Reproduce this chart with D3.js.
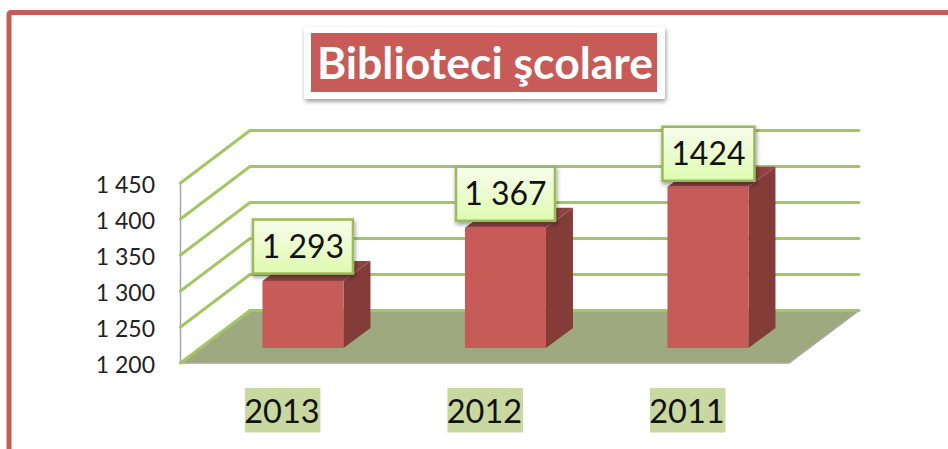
<!DOCTYPE html>
<html>
<head>
<meta charset="utf-8">
<script src="https://cdn.jsdelivr.net/npm/d3@7"></script>
<style>
  html, body { margin: 0; padding: 0; background: #fff; overflow: hidden; }
  text { font-family: Lato, "Open Sans", sans-serif; }
</style>
</head>
<body>
<svg id="chart" width="948" height="449"></svg>
<script>
const years = ["2013", "2012", "2011"];
const values = [1293, 1367, 1424];
const valueLabels = ["1 293", "1 367", "1424"];
const tickValues = [1200, 1250, 1300, 1350, 1400, 1450];
const tickLabels = ["1 200", "1 250", "1 300", "1 350", "1 400", "1 450"];
const titleText = "Biblioteci şcolare";

const red = "#c65b58", redDark = "#843c39", redTop = "#8f4442";
const green = "#a5c565", floorColor = "#9fa97f", axisGrey = "#a6a6a6";

// perspective offsets of the 3D box
const wallDx = 69.5, wallDy = -52.5;
const barDx = 27, barDy = -20;
const barBaseDrop = 15; // bars stand a bit behind the front edge of the floor

const svg = d3.select("#chart");
const defs = svg.append("defs");

const shadow = defs.append("filter").attr("id", "shadow")
  .attr("x", "-10%").attr("y", "-10%").attr("width", "125%").attr("height", "130%");
shadow.append("feDropShadow").attr("dx", 1).attr("dy", 2.5)
  .attr("stdDeviation", 2).attr("flood-color", "#000").attr("flood-opacity", 0.4);

const grad = defs.append("linearGradient").attr("id", "labelFill")
  .attr("x1", 0).attr("y1", 0).attr("x2", 0).attr("y2", 1);
grad.append("stop").attr("offset", "0%").attr("stop-color", "#f7fdec");
grad.append("stop").attr("offset", "100%").attr("stop-color", "#dffab0");

const y = d3.scaleLinear().domain([1200, 1450]).range([363, 183]);
const x0 = 180.5, x1 = 789;
const x = d3.scaleBand().domain(years).range([201.7, 809.2])
  .paddingInner(0.6).paddingOuter(0.3);

// outer frame, runs off the page on the right and at the bottom
svg.append("rect").attr("x", 9).attr("y", 12.5).attr("width", 1100).attr("height", 800)
  .attr("rx", 2).attr("fill", "#fff").attr("stroke", red).attr("stroke-width", 5);

// floor
svg.append("path")
  .attr("d", d3.line()([[x0, y(1200)], [x0 + wallDx, y(1200) + wallDy], [x1 + wallDx + 0.5, y(1200) + wallDy], [x1, y(1200)]]) + "Z")
  .attr("fill", floorColor);
svg.append("path")
  .attr("d", d3.line()([[x0, y(1200)], [x1, y(1200)], [x1 + wallDx + 0.5, y(1200) + wallDy]]))
  .attr("fill", "none").attr("stroke", axisGrey).attr("stroke-width", 1.5);

// vertical axis line
svg.append("line").attr("x1", x0).attr("x2", x0).attr("y1", y(1450)).attr("y2", y(1200))
  .attr("stroke", axisGrey).attr("stroke-width", 1.5);

// gridlines
svg.append("g").selectAll("path").data(tickValues).join("path")
  .attr("d", d => d3.line()([[x0, y(d)], [x0 + wallDx, y(d) + wallDy], [x1 + wallDx + 0.5, y(d) + wallDy]]))
  .attr("fill", "none").attr("stroke", green).attr("stroke-width", 3)
  .attr("stroke-linecap", "round").attr("stroke-linejoin", "round");

// tick labels
const axis = d3.axisLeft(y).tickValues(tickValues)
  .tickFormat((d, i) => tickLabels[i]).tickSize(0).tickPadding(0);
const axisG = svg.append("g").attr("transform", "translate(155,2.5)").call(axis);
axisG.select(".domain").remove();
axisG.selectAll("text").attr("font-size", 23).attr("fill", "#222").attr("dy", "0.32em")
  .style("font-family", "Lato, sans-serif");

// bars
const bars = svg.append("g").selectAll("g").data(years).join("g");
const base = y(1200) - barBaseDrop;
const barTop = (i) => y(values[i]) - barBaseDrop;
bars.append("path") // side
  .attr("d", (d, i) => {
    const r = x(d) + x.bandwidth();
    return d3.line()([[r, base], [r + barDx, base + barDy], [r + barDx, barTop(i) + barDy], [r, barTop(i)]]) + "Z";
  }).attr("fill", redDark);
bars.append("path") // top
  .attr("d", (d, i) => {
    const l = x(d), r = l + x.bandwidth();
    return d3.line()([[l, barTop(i)], [l + barDx, barTop(i) + barDy], [r + barDx, barTop(i) + barDy], [r, barTop(i)]]) + "Z";
  }).attr("fill", redTop);
bars.append("rect") // front
  .attr("x", d => x(d)).attr("width", x.bandwidth())
  .attr("y", (d, i) => barTop(i)).attr("height", (d, i) => base - barTop(i))
  .attr("fill", red);

// value labels
const labelW = [100, 99, 92], labelH = 54;
const labelShift = [0, 0, 0.5];
const labelLift = [7.5, 7, 6];
const labels = svg.append("g").selectAll("g").data(years).join("g");
labels.append("rect")
  .attr("x", (d, i) => x(d) + x.bandwidth() / 2 - labelW[i] / 2 + labelShift[i])
  .attr("y", (d, i) => barTop(i) - labelH - labelLift[i])
  .attr("width", (d, i) => labelW[i]).attr("height", labelH)
  .attr("fill", "url(#labelFill)").attr("stroke", "#9bbb59").attr("stroke-width", 2.5)
  .attr("filter", "url(#shadow)");
labels.append("text")
  .attr("x", (d, i) => x(d) + x.bandwidth() / 2 + labelShift[i])
  .attr("y", (d, i) => barTop(i) - labelLift[i] - labelH / 2)
  .attr("dy", "0.36em").attr("text-anchor", "middle")
  .attr("font-size", 32).attr("fill", "#111")
  .text((d, i) => valueLabels[i]);

// category labels
const cats = svg.append("g").selectAll("g").data(years).join("g");
cats.append("rect")
  .attr("x", d => x(d) + x.bandwidth() / 2 - 58).attr("y", 388)
  .attr("width", 75.5).attr("height", 44.5).attr("fill", "#c9d8a1");
cats.append("text")
  .attr("x", d => x(d) + x.bandwidth() / 2 - 21).attr("y", 411)
  .attr("dy", "0.36em").attr("text-anchor", "middle")
  .attr("font-size", 32.5).attr("fill", "#111")
  .text(d => d);

// title
svg.append("rect").attr("x", 304).attr("y", 27).attr("width", 361).attr("height", 72).attr("rx", 2)
  .attr("fill", "#fff").attr("filter", "url(#shadow)");
svg.append("rect").attr("x", 311).attr("y", 33).attr("width", 346).attr("height", 59).attr("fill", red);
svg.append("text").attr("x", 485).attr("y", 63).attr("dy", "0.35em").attr("text-anchor", "middle")
  .attr("font-size", 44.5).attr("font-weight", 700).attr("fill", "#fff")
  .text(titleText);
</script>
</body>
</html>
